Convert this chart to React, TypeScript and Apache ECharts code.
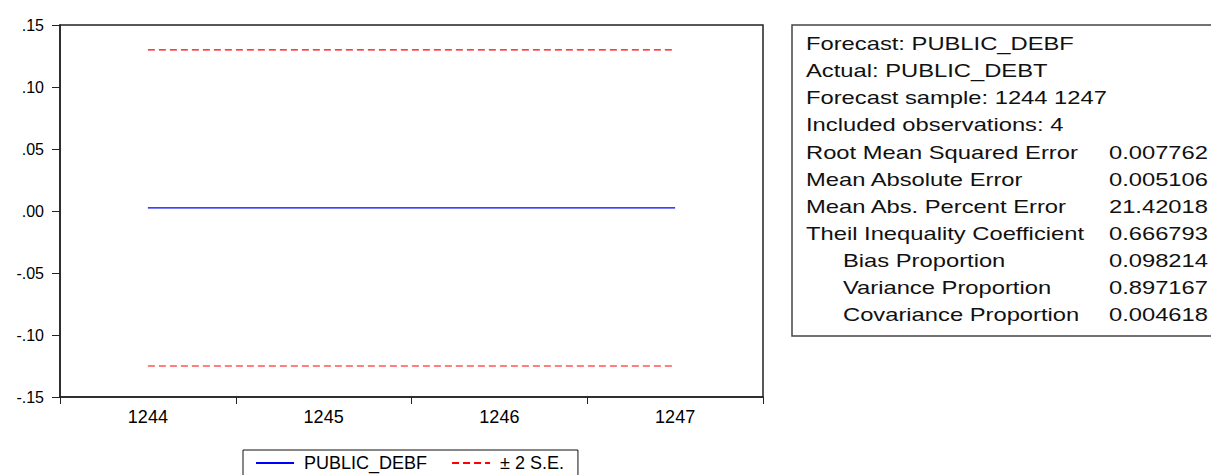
import React, { useEffect, useRef } from "react";
import * as echarts from "echarts";

// Forecast periods and forecast path with its ±2 S.E. band
const periods = ["1244", "1245", "1246", "1247"];
const forecastValues = [0.0025, 0.0025, 0.0025, 0.0025];
const upperBand = [0.13, 0.13, 0.13, 0.13];
const lowerBand = [-0.125, -0.125, -0.125, -0.125];

// Forecast evaluation statistics
const statLabels = [
  "Forecast: PUBLIC_DEBF",
  "Actual: PUBLIC_DEBT",
  "Forecast sample: 1244 1247",
  "Included observations: 4",
  "Root Mean Squared Error",
  "Mean Absolute Error",
  "Mean Abs. Percent Error",
  "Theil Inequality Coefficient",
  "Bias Proportion",
  "Variance Proportion",
  "Covariance Proportion",
];
const statValues = [
  "",
  "",
  "",
  "",
  "0.007762",
  "0.005106",
  "21.42018",
  "0.666793",
  "0.098214",
  "0.897167",
  "0.004618",
];
const indentedRows = [false, false, false, false, false, false, false, false, true, true, true];

const FONT = "'Liberation Sans', Arial, sans-serif";

function formatTick(v: number): string {
  const s = v.toFixed(2);
  return s.replace(/^(-?)0\./, "$1.");
}

function buildStatsGraphic() {
  const els: any[] = [];
  els.push({
    type: "rect",
    shape: { x: 792, y: 25, width: 440, height: 311 },
    style: { fill: "#ffffff", stroke: "#444444", lineWidth: 1.5 },
    z: 10,
  });
  const rowTop = 44;
  const rowStep = 27.1;
  const textStyle = {
    fontSize: 19,
    fontFamily: FONT,
    fill: "#111111",
  };
  statLabels.forEach((label, i) => {
    const y = rowTop + i * rowStep;
    els.push({
      type: "text",
      x: indentedRows[i] ? 843 : 806,
      y,
      scaleX: 1.25,
      z: 11,
      style: {
        ...textStyle,
        text: label,
        align: "left",
        verticalAlign: "middle",
        textAlign: "left",
        textVerticalAlign: "middle",
      },
    });
    if (statValues[i]) {
      els.push({
        type: "text",
        x: 1208,
        y,
        scaleX: 1.25,
        z: 11,
        style: {
          ...textStyle,
          text: statValues[i],
          align: "right",
          verticalAlign: "middle",
          textAlign: "right",
          textVerticalAlign: "middle",
        },
      });
    }
  });
  return els;
}

export default function App() {
  const ref = useRef<HTMLDivElement>(null);

  useEffect(() => {
    if (!ref.current) return;
    const chart = echarts.init(ref.current, undefined, { renderer: "svg" });
    chart.setOption({
      animation: false,
      backgroundColor: "#ffffff",
      grid: {
        left: 60,
        top: 25,
        right: 448,
        bottom: 78,
        show: true,
        borderColor: "#222222",
        borderWidth: 1.5,
        backgroundColor: "#ffffff",
      },
      xAxis: {
        type: "category",
        data: periods,
        boundaryGap: true,
        axisLine: { show: true, onZero: false, lineStyle: { color: "#222222", width: 1.5 } },
        axisTick: { show: true, length: 7, alignWithLabel: false, lineStyle: { color: "#222222" } },
        axisLabel: { color: "#000000", fontSize: 18, fontFamily: FONT, margin: 11 },
        splitLine: { show: false },
      },
      yAxis: {
        type: "value",
        min: -0.15,
        max: 0.15,
        interval: 0.05,
        axisLine: { show: true, lineStyle: { color: "#222222", width: 1.5 } },
        axisTick: { show: true, length: 8, lineStyle: { color: "#222222" } },
        axisLabel: {
          color: "#000000",
          fontSize: 16,
          fontFamily: FONT,
          margin: 16,
          formatter: (v: number) => formatTick(v),
        },
        splitLine: { show: false },
      },
      legend: {
        left: 243,
        top: 450,
        orient: "horizontal",
        data: ["PUBLIC_DEBF", "± 2 S.E."],
        itemWidth: 38,
        itemHeight: 14,
        itemGap: 24,
        padding: [4, 14, 8, 12],
        borderColor: "#111111",
        borderWidth: 1,
        backgroundColor: "#ffffff",
        itemStyle: { opacity: 0 },
        textStyle: { color: "#000000", fontSize: 18, fontFamily: FONT, padding: [0, 0, 0, 5] },
      },
      series: [
        {
          name: "PUBLIC_DEBF",
          type: "line",
          data: forecastValues,
          symbol: "none",
          lineStyle: { color: "#0000ff", width: 1.2 },
          itemStyle: { color: "#0000ff" },
        },
        {
          name: "± 2 S.E.",
          type: "line",
          data: upperBand,
          symbol: "none",
          lineStyle: { color: "#ff0000", width: 1.2, type: [7, 4] },
          itemStyle: { color: "#ff0000" },
        },
        {
          name: "± 2 S.E.",
          type: "line",
          data: lowerBand,
          symbol: "none",
          lineStyle: { color: "#ff0000", width: 1.2, type: [7, 4] },
          itemStyle: { color: "#ff0000" },
        },
      ],
      graphic: buildStatsGraphic(),
    });
    return () => chart.dispose();
  }, []);

  return (
    <div
      ref={ref}
      style={{ position: "fixed", left: 0, top: 0, width: 1211, height: 475, background: "#ffffff" }}
    />
  );
}
